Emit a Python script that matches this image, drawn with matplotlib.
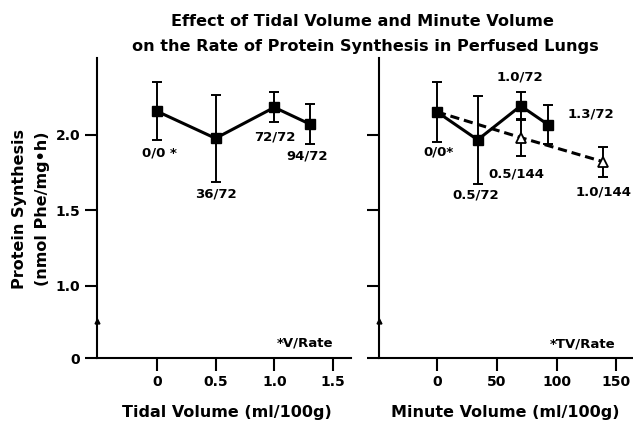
import numpy as np
import matplotlib.pyplot as plt

# tidal volume panel (ml/100g), labels are V/Rate
tv_x = [0, 0.5, 1.0, 1.3]
tv_y = [2.155, 1.975, 2.18, 2.07]
tv_err = [0.19, 0.29, 0.10, 0.13]
tv_labels = ["0/0 *", "36/72", "72/72", "94/72"]

# minute volume panel, rate 72 (squares)
mv_x = [0, 34, 70, 93]
mv_y = [2.15, 1.965, 2.19, 2.065]
mv_err = [0.20, 0.29, 0.095, 0.13]
mv_labels = ["0/0*", "0.5/72", "1.0/72", "1.3/72"]

# minute volume panel, rate 144 (open triangles)
mv2_x = [70, 139]
mv2_y = [1.98, 1.82]
mv2_err = [0.12, 0.10]
mv2_labels = ["0.5/144", "1.0/144"]

# y axis is broken: the "0" tick sits just below 1.0
y_zero = 0.52
ytick_vals = [y_zero, 1.0, 1.5, 2.0]
ytick_labels = ["0", "1.0", "1.5", "2.0"]
tv_ticks = [0, 0.5, 1.0, 1.5]
tv_ticklabels = ["0", "0.5", "1.0", "1.5"]
mv_ticks = [0, 50, 100, 150]

FONT = "DejaVu Sans"
plt.rcParams['font.family'] = FONT
plt.rcParams['font.weight'] = 'bold'

fig = plt.figure(figsize=(6.33, 4.21), dpi=100)
W, H = 633, 421

def px_axes(x0, x1, y0, y1):
    return fig.add_axes([x0 / W, 1 - y1 / H, (x1 - x0) / W, (y1 - y0) / H])

ax1 = px_axes(97, 351, 58, 358)
ax2 = px_axes(379, 633, 58, 358)

for ax in (ax1, ax2):
    for s in ('top', 'right'):
        ax.spines[s].set_visible(False)
    ax.spines['left'].set_linewidth(1.5)
    ax.spines['bottom'].set_linewidth(1.5)
    ax.set_ylim(y_zero, 2.507)
    ax.set_yticks(ytick_vals)
    ax.tick_params(axis='both', direction='out', length=9, width=1.5,
                   labelsize=10, pad=3)
    # little mark for the axis break
    ax.plot([0], [0.765], marker='^', ms=3.5, color='k',
            transform=ax.get_yaxis_transform(), clip_on=False)

ax1.set_yticklabels(ytick_labels, fontweight='bold')
ax2.set_yticklabels([])

ax1.set_xlim(-0.508, 1.652)
ax1.set_xticks(tv_ticks)
ax1.set_xticklabels(tv_ticklabels, fontweight='bold')
ax2.set_xlim(-48.5, 163.9)
ax2.set_xticks(mv_ticks)
ax2.set_xticklabels([str(t) for t in mv_ticks], fontweight='bold')

eb = dict(fmt='none', ecolor='k', elinewidth=1.4, capsize=3.5, capthick=1.4, zorder=2)

# left panel
ax1.errorbar(tv_x, tv_y, yerr=tv_err, **eb)
ax1.plot(tv_x, tv_y, '-', color='k', lw=2.2, marker='s', ms=6.5, zorder=3)

# right panel
ax2.errorbar(mv_x, mv_y, yerr=mv_err, **eb)
ax2.errorbar(mv2_x, mv2_y, yerr=mv2_err, **eb)
ax2.plot([mv_x[0]] + mv2_x, [mv_y[0]] + mv2_y, '--', color='k', lw=2.2,
         dashes=(3, 1.6), zorder=3)
ax2.plot(mv_x, mv_y, '-', color='k', lw=2.2, marker='s', ms=6.5, zorder=4)
ax2.plot(mv2_x, mv2_y, linestyle='none', marker='^', ms=7, mfc='white',
         mec='k', mew=1.3, zorder=5)

# point labels, offsets in pixels (dx, dy down)
tv_off = [(3, 42), (0, 56), (0, 30), (-2, 32)]
mv_off = [(2, 40), (-2, 55), (-1, -29), (19, -11)]
mv2_off = [(-4, 36), (0, 30)]

def label(ax, xs, ys, texts, offs, ha='center'):
    for x, y, t, (dx, dy) in zip(xs, ys, texts, offs):
        ax.annotate(t, (x, y), xytext=(dx, -dy), textcoords='offset pixels',
                    ha=ha, va='center', fontsize=9.5, fontweight='bold')

label(ax1, tv_x, tv_y, tv_labels, tv_off)
label(ax2, mv_x[:3], mv_y[:3], mv_labels[:3], mv_off[:3])
label(ax2, mv_x[3:], mv_y[3:], mv_labels[3:], mv_off[3:], ha='left')
label(ax2, mv2_x, mv2_y, mv2_labels, mv2_off)

fig.text(305 / W, 1 - 343 / H, "*V/Rate", ha='center', va='center',
         fontsize=9.5, fontweight='bold')
fig.text(583 / W, 1 - 344 / H, "*TV/Rate", ha='center', va='center',
         fontsize=9.5, fontweight='bold')

# titles and axis labels
fig.text(362 / W, 1 - 21 / H, "Effect of Tidal Volume and Minute Volume",
         ha='center', va='center', fontsize=11.6, fontweight='bold')
fig.text(365 / W, 1 - 47 / H, "on the Rate of Protein Synthesis in Perfused Lungs",
         ha='center', va='center', fontsize=11.6, fontweight='bold')
fig.text(227 / W, 1 - 412 / H, "Tidal Volume (ml/100g)", ha='center',
         va='center', fontsize=11.5, fontweight='bold')
fig.text(505 / W, 1 - 412 / H, "Minute Volume (ml/100g)", ha='center',
         va='center', fontsize=11.5, fontweight='bold')
fig.text(20 / W, 1 - 209 / H, "Protein Synthesis", rotation=90, ha='center',
         va='center', fontsize=11.5, fontweight='bold')
fig.text(43 / W, 1 - 209 / H, "(nmol Phe/mg\u2022h)", rotation=90, ha='center',
         va='center', fontsize=11.5, fontweight='bold')

fig.savefig("out.png", dpi=100)
